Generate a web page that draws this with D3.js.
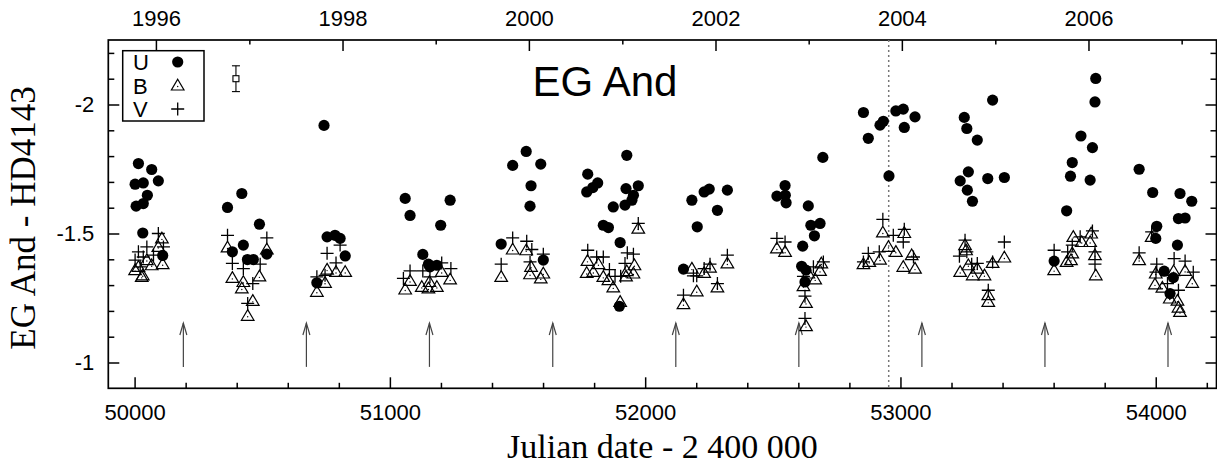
<!DOCTYPE html>
<html>
<head>
<meta charset="utf-8">
<script src="https://cdn.jsdelivr.net/npm/d3@7"></script>
<style>
  body { margin: 0; background: #fff; }
  svg text { font-family: "Liberation Sans", Arial, sans-serif; fill: #000; }
  svg .serif { font-family: "Liberation Serif", "Times New Roman", serif; }
</style>
</head>
<body>
<svg id="chart" width="1217" height="465"></svg>
<script>
// photometry, [JD - 2400000, magnitude difference]
const uData = [
  [50015,-1.771],[50067,-1.748],[50093,-1.704],[50002,-1.691],[50034,-1.696],[50050,-1.648],[50006,-1.606],[50034,-1.616],[50032,-1.502],[50110,-1.415],
  [50420,-1.655],[50364,-1.601],[50489,-1.536],[50426,-1.455],[50383,-1.429],[50442,-1.399],[50465,-1.399],[50518,-1.420],
  [50742,-1.919],[50754,-1.487],[50785,-1.493],[50805,-1.481],[50825,-1.413],[50714,-1.309],
  [51060,-1.636],[51079,-1.570],[51236,-1.629],[51199,-1.532],[51129,-1.419],[51151,-1.381],[51184,-1.377],[51157,-1.371],
  [51481,-1.764],[51534,-1.818],[51591,-1.769],[51553,-1.685],[51549,-1.606],[51436,-1.459],[51601,-1.397],
  [51928,-1.803],[51775,-1.730],[51814,-1.696],[51795,-1.678],[51771,-1.661],[51925,-1.674],[51973,-1.685],[51954,-1.648],[51948,-1.629],[51921,-1.610],[51875,-1.603],[51836,-1.532],[51856,-1.523],[51902,-1.465],[51899,-1.218],
  [52183,-1.629],[52231,-1.661],[52251,-1.672],[52322,-1.668],[52283,-1.590],[52204,-1.526],[52150,-1.362],
  [52696,-1.795],[52548,-1.686],[52516,-1.645],[52549,-1.648],[52552,-1.619],[52639,-1.607],[52649,-1.532],[52685,-1.539],[52663,-1.491],[52617,-1.451],[52613,-1.373],[52630,-1.358],[52626,-1.312],
  [52855,-1.969],[52920,-1.920],[52933,-1.935],[52874,-1.869],[52982,-1.975],[53011,-1.982],[53057,-1.952],[53015,-1.911],[52955,-1.723],
  [53250,-1.950],[53260,-1.907],[53301,-1.862],[53266,-1.739],[53234,-1.704],[53342,-1.713],[53262,-1.668],[53282,-1.625],[53361,-2.017],[53407,-1.717],
  [53765,-2.101],[53762,-2.010],[53707,-1.878],[53752,-1.833],[53673,-1.775],[53666,-1.722],[53743,-1.707],[53651,-1.588],[53602,-1.393],
  [53935,-1.749],[53988,-1.659],[54095,-1.655],[54141,-1.625],[54089,-1.558],[54115,-1.560],[54004,-1.528],[54000,-1.481],[54085,-1.455],[54033,-1.354],[54069,-1.329],[54056,-1.267]
];
const bData = [
  [50107,-1.481],[50093,-1.448],[50067,-1.377],[50110,-1.381],[50002,-1.358],[50032,-1.338],[50048,-1.397],[50015,-1.371],[50028,-1.332],
  [50364,-1.446],[50518,-1.438],[50383,-1.328],[50426,-1.312],[50420,-1.287],[50489,-1.334],[50463,-1.239],[50443,-1.181],
  [50714,-1.274],[50746,-1.309],[50754,-1.360],[50789,-1.351],[50825,-1.351],
  [51060,-1.283],[51079,-1.316],[51125,-1.293],[51151,-1.287],[51184,-1.293],[51203,-1.351],[51236,-1.322],[51155,-1.312],
  [51436,-1.332],[51481,-1.438],[51534,-1.435],[51553,-1.371],[51549,-1.342],[51591,-1.326],[51601,-1.345],
  [51973,-1.519],[51774,-1.394],[51817,-1.381],[51771,-1.347],[51797,-1.351],[51836,-1.332],[51856,-1.319],[51875,-1.291],[51925,-1.334],[51954,-1.345],[51958,-1.377],[51902,-1.235],[51928,-1.354],
  [52183,-1.364],[52150,-1.226],[52202,-1.276],[52231,-1.347],[52254,-1.368],[52283,-1.291],[52322,-1.384],
  [52516,-1.442],[52548,-1.429],[52690,-1.384],[52685,-1.355],[52666,-1.322],[52639,-1.345],[52620,-1.296],[52630,-1.231],[52630,-1.141],
  [52931,-1.504],[53015,-1.502],[52953,-1.448],[52982,-1.429],[53044,-1.416],[52855,-1.381],[52878,-1.390],[52920,-1.399],[53011,-1.371],[53057,-1.364],
  [53253,-1.455],[53257,-1.435],[53234,-1.351],[53266,-1.377],[53283,-1.338],[53301,-1.364],[53329,-1.338],[53344,-1.261],[53344,-1.235],[53407,-1.407],[53361,-1.386],
  [53602,-1.358],[53677,-1.487],[53710,-1.467],[53747,-1.500],[53762,-1.416],[53765,-1.338],[53651,-1.390],[53668,-1.397],[53673,-1.423],[53743,-1.467],
  [53935,-1.397],[53984,-1.487],[54000,-1.345],[53997,-1.303],[54026,-1.290],[54070,-1.354],[54115,-1.355],[54143,-1.309],[54055,-1.248],[54085,-1.240],[54089,-1.213],[54095,-1.196]
];
const vData = [
  [50093,-1.500],[50113,-1.448],[50015,-1.429],[50048,-1.448],[50002,-1.397],[50034,-1.409],[50074,-1.416],[50022,-1.371],
  [50364,-1.493],[50518,-1.483],[50383,-1.384],[50426,-1.364],[50492,-1.381],[50463,-1.306],[50443,-1.229],
  [50714,-1.332],[50746,-1.338],[50754,-1.423],[50789,-1.386],[50805,-1.455],
  [51053,-1.326],[51079,-1.355],[51129,-1.355],[51203,-1.386],[51239,-1.364],[51157,-1.332],
  [51436,-1.381],[51481,-1.483],[51536,-1.470],[51556,-1.438],[51601,-1.420],[51549,-1.390],
  [51973,-1.539],[51775,-1.435],[51810,-1.409],[51836,-1.409],[51860,-1.360],[51882,-1.334],[51904,-1.334],[51930,-1.425],[51954,-1.420],[51921,-1.384],
  [52150,-1.261],[52189,-1.336],[52202,-1.336],[52231,-1.364],[52254,-1.381],[52283,-1.306],[52322,-1.416],
  [52516,-1.481],[52548,-1.467],[52698,-1.390],[52659,-1.371],[52620,-1.334],[52626,-1.257],[52626,-1.171],
  [52931,-1.555],[52972,-1.493],[53015,-1.516],[53011,-1.467],[52874,-1.423],[52855,-1.390],[52917,-1.429],[53051,-1.409],
  [53253,-1.474],[53231,-1.412],[53260,-1.429],[53279,-1.381],[53301,-1.384],[53361,-1.390],[53344,-1.280],[53407,-1.467],
  [53602,-1.435],[53655,-1.429],[53673,-1.455],[53704,-1.487],[53752,-1.510],[53762,-1.429],[53762,-1.381],
  [53935,-1.425],[53984,-1.506],[54004,-1.381],[54001,-1.350],[54072,-1.403],[54115,-1.393],[54147,-1.350],[54046,-1.306],[54089,-1.280]
];
// times of minima (arrows), marked date, typical error
const minima = [50191, 50673, 51155, 51638, 52120, 52602, 53084, 53566, 54048];
const markJD = 52954;
const errBar = [50397, -2.1, 0.05];

const xTicks = [50000, 51000, 52000, 53000, 54000];
const xMinor = [50200, 50400, 50600, 50800, 51200, 51400, 51600, 51800, 52200, 52400, 52600, 52800, 53200, 53400, 53600, 53800, 54200];
const yTicks = [-1, -1.5, -2];
const yMinor = [-1.1, -1.2, -1.3, -1.4, -1.6, -1.7, -1.8, -1.9, -2.1, -2.2];
const yearLabels = [1996, 1998, 2000, 2002, 2004, 2006];
const yearMinor = [1997, 1999, 2001, 2003, 2005, 2007];
const xDomain = [49897, 54238];
const yDomain = [-0.9, -2.25];

const box = { left: 108.3, right: 1216.5, top: 40, bottom: 388.3 };
const svg = d3.select('#chart');

const x = d3.scaleLinear().domain(xDomain).range([box.left, box.right]);
const y = d3.scaleLinear().domain(yDomain).range([box.bottom, box.top]);
// Jan 1 of a year as JD - 2400000
const jdOfYear = yr => Date.UTC(yr, 0, 1) / 864e5 + 2440587.5 - 2400000;

function styleAxis(g) {
  g.select('.domain').remove();
  g.attr('font-size', 22).attr('font-family', '"Liberation Sans", Arial, sans-serif');
  g.selectAll('.tick line').attr('stroke', '#000').attr('stroke-width', 1.5);
}

// axes, major + minor ticks pointing inwards
svg.append('g').attr('transform', `translate(0,${box.bottom})`)
  .call(d3.axisBottom(x).tickValues(xTicks).tickSize(-11).tickPadding(16).tickFormat(d => d))
  .call(styleAxis);
svg.append('g').attr('transform', `translate(0,${box.bottom})`)
  .call(d3.axisBottom(x).tickValues(xMinor).tickSize(-5.5).tickFormat(''))
  .call(styleAxis);
svg.append('g').attr('transform', `translate(0,${box.top})`)
  .call(d3.axisTop(x).tickValues(yearLabels.map(jdOfYear)).tickSize(-11).tickPadding(14).tickFormat((d, i) => yearLabels[i]))
  .call(styleAxis);
svg.append('g').attr('transform', `translate(0,${box.top})`)
  .call(d3.axisTop(x).tickValues(yearMinor.map(jdOfYear)).tickSize(-4.5).tickFormat(''))
  .call(styleAxis);
svg.append('g').attr('transform', `translate(${box.left},0)`)
  .call(d3.axisLeft(y).tickValues(yTicks).tickSize(-11).tickPadding(14).tickFormat(d => String(d)))
  .call(styleAxis);
svg.append('g').attr('transform', `translate(${box.left},0)`)
  .call(d3.axisLeft(y).tickValues(yMinor).tickSize(-6).tickFormat(''))
  .call(styleAxis);
svg.append('g').attr('transform', `translate(${box.right},0)`)
  .call(d3.axisRight(y).tickValues(yTicks).tickSize(-11).tickFormat(''))
  .call(styleAxis);
svg.append('g').attr('transform', `translate(${box.right},0)`)
  .call(d3.axisRight(y).tickValues(yMinor).tickSize(-6).tickFormat(''))
  .call(styleAxis);

svg.append('rect')
  .attr('x', box.left).attr('y', box.top)
  .attr('width', box.right - box.left).attr('height', box.bottom - box.top)
  .attr('fill', 'none').attr('stroke', '#000').attr('stroke-width', 1.7);

// axis titles
svg.append('text').attr('class', 'serif')
  .attr('x', (box.left + box.right) / 2).attr('y', 458)
  .attr('text-anchor', 'middle').attr('font-size', 34)
  .text('Julian date - 2 400 000');
svg.append('text').attr('class', 'serif')
  .attr('transform', 'translate(35,218) rotate(-90)')
  .attr('text-anchor', 'middle').attr('font-size', 35)
  .text('EG And - HD4143');

svg.append('text')
  .attr('x', 605).attr('y', 96).attr('text-anchor', 'middle').attr('font-size', 42)
  .text('EG And');

// marked date
svg.append('line')
  .attr('x1', x(markJD)).attr('x2', x(markJD)).attr('y1', box.top).attr('y2', box.bottom)
  .attr('stroke', '#777').attr('stroke-width', 1.5).attr('stroke-dasharray', '2,3');

// arrows at the minima
const arrows = svg.append('g').attr('stroke', '#444').attr('stroke-width', 1.2).attr('fill', 'none');
minima.forEach(t => {
  const ax = x(t), y0 = y(-0.983), y1 = y(-1.153);
  arrows.append('line').attr('x1', ax).attr('x2', ax).attr('y1', y0).attr('y2', y1);
  arrows.append('path').attr('d', `M${ax - 3.5},${y1 + 12}L${ax},${y1}L${ax + 3.5},${y1 + 12}`);
});

// markers
const triPath = 'M0,-6.2L6.3,4.5L-6.3,4.5Z';
const crossPath = 'M-6.5,0H6.5M0,-6.5V6.5';

const bG = svg.append('g');
bG.selectAll('path').data(bData).join('path')
  .attr('transform', d => `translate(${x(d[0])},${y(d[1])})`)
  .attr('d', triPath).attr('fill', 'none').attr('stroke', '#000').attr('stroke-width', 1.2);
bG.selectAll('circle').data(bData).join('circle')
  .attr('cx', d => x(d[0])).attr('cy', d => y(d[1]) + 1).attr('r', 0.7).attr('fill', '#000');

svg.append('g').selectAll('path').data(vData).join('path')
  .attr('transform', d => `translate(${x(d[0])},${y(d[1])})`)
  .attr('d', crossPath).attr('fill', 'none').attr('stroke', '#000').attr('stroke-width', 1.3);

svg.append('g').selectAll('circle').data(uData).join('circle')
  .attr('cx', d => x(d[0])).attr('cy', d => y(d[1])).attr('r', 5.6).attr('fill', '#000');

// typical error bar
const ex = x(errBar[0]);
const eb = svg.append('g').attr('stroke', '#000').attr('stroke-width', 1.1).attr('fill', 'none');
eb.append('line').attr('x1', ex).attr('x2', ex)
  .attr('y1', y(errBar[1] - errBar[2])).attr('y2', y(errBar[1] + errBar[2]));
[errBar[1] - errBar[2], errBar[1] + errBar[2]].forEach(v =>
  eb.append('line').attr('x1', ex - 4).attr('x2', ex + 4).attr('y1', y(v)).attr('y2', y(v)));
eb.append('rect').attr('x', ex - 3).attr('y', y(errBar[1]) - 3).attr('width', 6).attr('height', 6).attr('fill', '#fff');

// legend
const leg = svg.append('g');
leg.append('rect').attr('x', 122.7).attr('y', 50.7).attr('width', 81.3).attr('height', 70.3)
  .attr('fill', '#fff').attr('stroke', '#000').attr('stroke-width', 1.5);
const legItems = [['U', 62], ['B', 85.5], ['V', 109]];
legItems.forEach(([lab, ly]) => {
  leg.append('text').attr('x', 133).attr('y', ly + 8).attr('font-size', 22).text(lab);
});
leg.append('circle').attr('cx', 177.7).attr('cy', 62).attr('r', 5.6).attr('fill', '#000');
leg.append('path').attr('transform', 'translate(177.7,85.5)').attr('d', triPath)
  .attr('fill', 'none').attr('stroke', '#000').attr('stroke-width', 1.2);
leg.append('circle').attr('cx', 177.7).attr('cy', 86.5).attr('r', 0.7).attr('fill', '#000');
leg.append('path').attr('transform', 'translate(177.7,109)').attr('d', crossPath)
  .attr('fill', 'none').attr('stroke', '#000').attr('stroke-width', 1.3);
</script>
</body>
</html>
